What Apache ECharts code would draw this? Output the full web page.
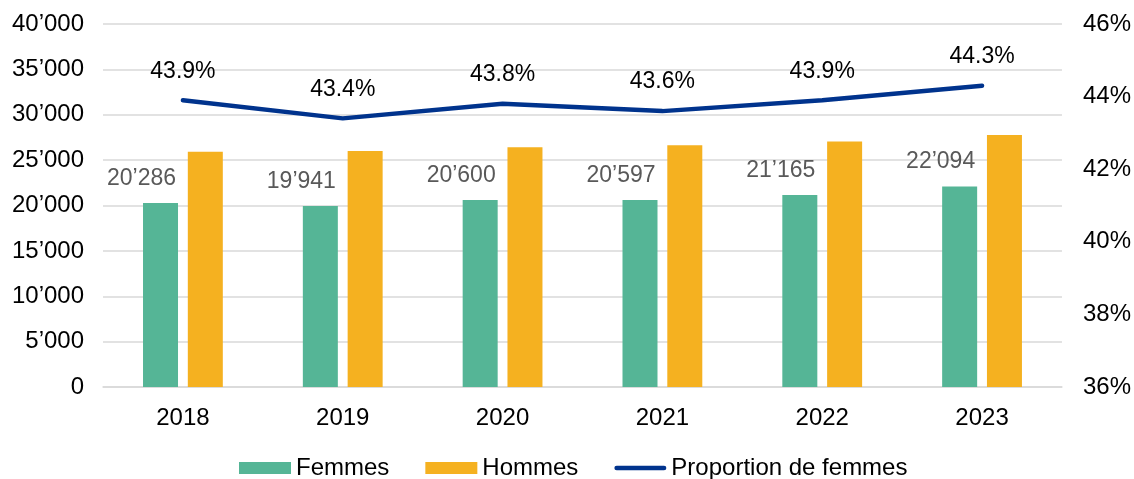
<!DOCTYPE html>
<html>
<head>
<meta charset="utf-8">
<script src="https://cdn.jsdelivr.net/npm/echarts@6/dist/echarts.min.js"></script>
<style>
  html, body { margin: 0; padding: 0; background: #fff; }
  #chart { width: 1134px; height: 479px; }
</style>
</head>
<body>
<div id="chart"></div>
<script>
// data
var years = ["2018", "2019", "2020", "2021", "2022", "2023"];
var femmes = [20286, 19941, 20600, 20597, 21165, 22094];
var hommes = [25920, 26010, 26430, 26640, 27050, 27780];
var proportion = [43.9, 43.4, 43.8, 43.6, 43.9, 44.3];

var font = "Liberation Sans, Arial, sans-serif";

function thousands(v) {
  return String(v).replace(/\B(?=(\d{3})+(?!\d))/g, "\u2019");
}

var chart = echarts.init(document.getElementById("chart"));

var option = {
  animation: false,
  textStyle: { fontFamily: font },
  grid: {
    left: 103,
    right: 72,
    top: 24,
    bottom: 92,
  },
  legend: {
    bottom: -6,
    left: 234,
    itemWidth: 52,
    itemHeight: 12,
    itemGap: 36,
    textStyle: { fontSize: 24, color: "#000", fontFamily: font },
    data: [
      { name: "Femmes", icon: "rect" },
      { name: "Hommes", icon: "rect" },
      { name: "Proportion de femmes", icon: "path://M2.5,0 L53.5,0 A2.5,2.5 0 0 1 53.5,5 L2.5,5 A2.5,2.5 0 0 1 2.5,0 Z" },
    ],
  },
  xAxis: {
    type: "category",
    data: years,
    axisTick: { show: false },
    axisLine: { lineStyle: { color: "#d9d9d9", width: 1.5 } },
    axisLabel: { color: "#000", fontSize: 24, margin: 19 },
  },
  yAxis: [
    {
      type: "value",
      min: 0,
      max: 40000,
      interval: 5000,
      axisLine: { show: false },
      axisTick: { show: false },
      splitLine: { lineStyle: { color: "#d9d9d9", width: 1.5 } },
      axisLabel: {
        color: "#000",
        fontSize: 24,
        margin: 19,
        formatter: function (v) { return thousands(v); },
      },
    },
    {
      type: "value",
      min: 36,
      max: 46,
      interval: 2,
      axisLine: { show: false },
      axisTick: { show: false },
      splitLine: { show: false },
      axisLabel: {
        color: "#000",
        fontSize: 24,
        margin: 21,
        formatter: "{value}%",
      },
    },
  ],
  series: [
    {
      name: "Femmes",
      type: "bar",
      data: femmes,
      barWidth: 35,
      barGap: "28%",
      itemStyle: { color: "#55b596" },
      label: {
        show: true,
        position: "top",
        offset: [-19, -8],
        fontSize: 23,
        color: "#595959",
        formatter: function (p) { return thousands(p.value); },
      },
    },
    {
      name: "Hommes",
      type: "bar",
      data: hommes,
      barWidth: 35,
      itemStyle: { color: "#f5b120" },
    },
    {
      name: "Proportion de femmes",
      type: "line",
      yAxisIndex: 1,
      data: proportion,
      symbol: "circle",
      symbolSize: 1,
      lineStyle: { color: "#00338d", width: 4.5, cap: "round" },
      itemStyle: { color: "#00338d" },
      label: {
        show: true,
        position: "top",
        distance: 17,
        fontSize: 23,
        color: "#000",
        formatter: function (p) { return p.value.toFixed(1) + "%"; },
      },
    },
  ],
};

chart.setOption(option);
window.addEventListener("resize", function () {
  chart.resize();
});
</script>
</body>
</html>
